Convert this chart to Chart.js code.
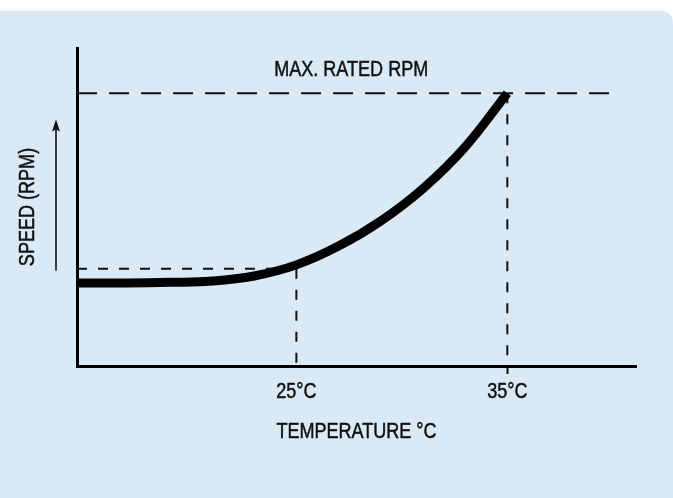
<!DOCTYPE html>
<html><head><meta charset="utf-8">
<script src="https://cdn.jsdelivr.net/npm/chart.js@4/dist/chart.umd.min.js"></script>
<style>html,body{margin:0;padding:0;background:#fff;}canvas{display:block;}</style>
</head><body><canvas id="c" width="673" height="498"></canvas>
<script>
// ---- data ----
const TEMPERATURE = [14.6, 17, 19, 21, 23, 25, 27, 29, 31, 33, 35];
const SPEED = [26.1, 26.1, 26.3, 26.7, 28.3, 31.8, 37.7, 45.6, 55.8, 68.9, 85.8];
const X_TICKS = [25, 35];
const X_TICK_LABELS = ['25°C', '35°C'];
const X_RANGE = [14.6, 41.1];
const Y_RANGE = [0, 100];
const MAX_RATED_SPEED = 85.8;
const MAX_LINE_END = 40;
const SPEED_AT_25 = 30.6;
const ARROW_RANGE = [30, 77.5];
const MAX_LABEL = 'MAX. RATED RPM';
const MAX_LABEL_POS = [27.6, 93];
const X_TITLE = 'TEMPERATURE °C';
const Y_TITLE = 'SPEED (RPM)';

const FONT = '"Liberation Sans", Arial, sans-serif';
const FONT_SIZE = 22;
const SQUEEZE = 0.82; // condensed lettering
const INK = '#111111';
const BG = 'rgb(217,234,246)';

const canvas = document.getElementById('c');
const c2d = canvas.getContext('2d');
const rawFillText = c2d.fillText.bind(c2d);
const rawStrokeText = c2d.strokeText.bind(c2d);
c2d.fillText = function (t, x, y) {
  this.save();
  this.translate(x, y);
  this.scale(SQUEEZE, 1);
  rawFillText(t, 0, 0);
  this.strokeStyle = this.fillStyle;
  this.lineWidth = 0.5;
  rawStrokeText(t, 0, 0);
  this.restore();
};

const curve = TEMPERATURE.map((t, i) => ({x: t, y: SPEED[i]}));

const decor = {
  id: 'decor',
  beforeDraw(chart) {
    const ctx = chart.ctx;
    ctx.save();
    ctx.fillStyle = '#ffffff';
    ctx.fillRect(0, 0, chart.width, chart.height);
    ctx.fillStyle = BG;
    ctx.beginPath();
    ctx.roundRect(-20, 10.5, chart.width + 20, chart.height + 20, 12);
    ctx.fill();
    ctx.restore();
  },
  afterDraw(chart) {
    const ctx = chart.ctx;
    const xs = chart.scales.x, ys = chart.scales.y;
    ctx.save();
    const ax = chart.chartArea.left - 21;
    const y0 = ys.getPixelForValue(ARROW_RANGE[0]);
    const y1 = ys.getPixelForValue(ARROW_RANGE[1]);
    ctx.strokeStyle = INK; ctx.fillStyle = INK; ctx.lineWidth = 1.6;
    ctx.beginPath(); ctx.moveTo(ax, y0); ctx.lineTo(ax, y1 + 8); ctx.stroke();
    ctx.beginPath(); ctx.moveTo(ax, y1); ctx.lineTo(ax - 4, y1 + 12); ctx.lineTo(ax, y1 + 10); ctx.lineTo(ax + 4, y1 + 12); ctx.closePath(); ctx.fill();
    ctx.font = FONT_SIZE + 'px ' + FONT;
    ctx.textAlign = 'center'; ctx.textBaseline = 'middle';
    ctx.fillText(MAX_LABEL, xs.getPixelForValue(MAX_LABEL_POS[0]), ys.getPixelForValue(MAX_LABEL_POS[1]));
    ctx.restore();
  }
};

const dashed = (pts, dash) => ({
  data: pts, borderColor: INK, borderWidth: 2, borderDash: dash,
  pointRadius: 0, tension: 0, fill: false
});

new Chart(canvas, {
  type: 'line',
  data: {
    datasets: [
      {
        data: curve, borderColor: '#000', borderWidth: 9, pointRadius: 0,
        tension: 0.4, borderCapStyle: 'butt', borderJoinStyle: 'round', fill: false
      },
      dashed([{x: X_RANGE[0], y: MAX_RATED_SPEED}, {x: MAX_LINE_END, y: MAX_RATED_SPEED}], [20, 12]),
      dashed([{x: X_RANGE[0], y: SPEED_AT_25}, {x: X_TICKS[0], y: SPEED_AT_25}], [10, 11]),
      dashed([{x: X_TICKS[0], y: SPEED_AT_25}, {x: X_TICKS[0], y: Y_RANGE[0]}], [10, 11]),
      dashed([{x: X_TICKS[1], y: MAX_RATED_SPEED}, {x: X_TICKS[1], y: Y_RANGE[0]}], [10, 11])
    ]
  },
  options: {
    responsive: false, animation: false, devicePixelRatio: 1,
    layout: {padding: {left: 0, top: 48, right: 37, bottom: 0}},
    plugins: {legend: {display: false}, tooltip: {enabled: false}},
    scales: {
      x: {
        type: 'linear', min: X_RANGE[0], max: X_RANGE[1],
        afterBuildTicks: s => { s.ticks = X_TICKS.map(v => ({value: v})); },
        afterFit: s => { s.height = 132; },
        ticks: {
          callback: v => X_TICK_LABELS[X_TICKS.indexOf(v)],
          color: INK, font: {family: FONT, size: FONT_SIZE}, padding: 5, maxRotation: 0
        },
        grid: {
          display: true, drawOnChartArea: false, drawTicks: true, tickLength: 8, tickWidth: 2,
          tickColor: c => (c.tick && c.tick.value === X_TICKS[1]) ? INK : 'rgba(0,0,0,0)'
        },
        border: {display: true, color: '#000', width: 3},
        title: {display: true, text: X_TITLE, color: INK, font: {family: FONT, size: FONT_SIZE}, padding: {top: 0, bottom: 53}}
      },
      y: {
        type: 'linear', min: Y_RANGE[0], max: Y_RANGE[1],
        afterFit: s => { s.width = 77; },
        ticks: {display: false},
        grid: {display: false},
        border: {display: true, color: '#000', width: 3},
        title: {display: true, text: Y_TITLE, color: INK, font: {family: FONT, size: FONT_SIZE}, padding: {top: 15, bottom: 0}}
      }
    }
  },
  plugins: [decor]
});
</script>
</body></html>
